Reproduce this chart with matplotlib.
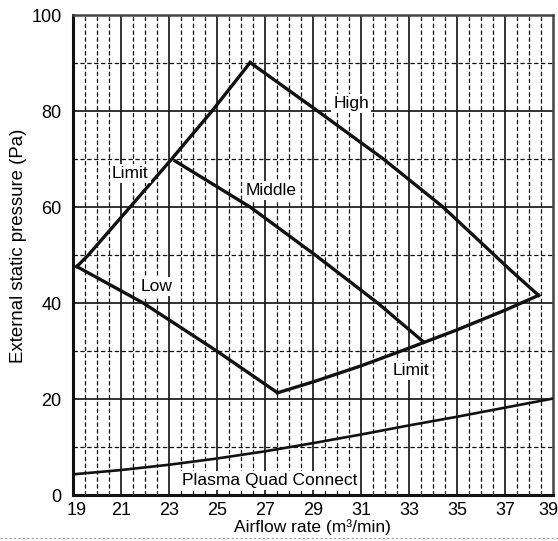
import matplotlib
matplotlib.use('Agg')
import numpy as np
import matplotlib.pyplot as plt
import matplotlib.transforms as mtransforms
from matplotlib.lines import Line2D

plt.rcParams['font.family'] = ['Liberation Sans', 'DejaVu Sans']

# curves (airflow m3/min, pressure Pa)
limit_top_x = [19.17, 19.65, 21.39, 23.12, 24.8, 26.39]
limit_top_y = [47.6, 50.0, 60.0, 70.0, 80.0, 90.1]
high_x = [26.39, 29.2, 31.94, 34.42, 37.22, 38.4]
high_y = [90.1, 80.0, 70.0, 60.0, 46.9, 41.6]
middle_x = [23.26, 26.39, 29.1, 31.7, 33.61]
middle_y = [69.6, 60.0, 50.0, 40.0, 31.9]
low_x = [19.17, 21.94, 25.0, 27.53]
low_y = [47.6, 40.0, 30.0, 21.3]
limit_bot_x = [27.53, 29.03, 31.0, 33.0, 35.0, 37.0, 38.4]
limit_bot_y = [21.3, 23.6, 26.9, 30.6, 34.4, 38.5, 41.6]
plasma_x = [19, 21, 23, 25, 27, 29, 31, 33, 35, 37, 39]
plasma_y = [4.3, 5.2, 6.3, 7.6, 9.1, 10.8, 12.6, 14.5, 16.3, 18.2, 20.1]

labels = ['High', 'Middle', 'Limit', 'Low', 'Limit', 'Plasma Quad Connect']
label_x = [30.6, 27.27, 21.4, 22.5, 33.1, 27.2]
label_y = [81.6, 63.5, 66.9, 43.5, 25.9, 3.0]

xticks = list(range(19, 40, 2))
yticks = list(range(0, 101, 20))

fig = plt.figure(figsize=(5.58, 5.41), dpi=100)
ax = fig.add_axes([0.1303, 0.085, 0.8607, 0.8872])
ax.set_xlim(19, 39)
ax.set_ylim(0, 100)

# grid
for xv in np.arange(19.5, 39, 0.5):
    if xv % 2 == 1:
        ax.axvline(xv, color='#111111', lw=1.2, zorder=1)
    else:
        ax.axvline(xv, color='#111111', lw=0.9, ls=(0, (3.5, 2)), zorder=1)
for yv in range(10, 100, 10):
    if yv % 20 == 0:
        ax.axhline(yv, color='#111111', lw=1.2, zorder=1)
    else:
        ax.axhline(yv, color='#111111', lw=0.9, ls=(0, (3.5, 2)), zorder=1)

for xs, ys in [(limit_top_x, limit_top_y), (high_x, high_y), (middle_x, middle_y),
               (low_x, low_y), (limit_bot_x, limit_bot_y)]:
    ax.plot(xs, ys, color='#111111', lw=2.4, zorder=3, solid_joinstyle='miter')
ax.plot(plasma_x, plasma_y, color='#111111', lw=1.9, zorder=3)

for t, lx, ly in zip(labels, label_x, label_y):
    ax.text(lx, ly, t, ha='center', va='center', fontsize=12.5, zorder=4,
            bbox=dict(facecolor='white', edgecolor='none', pad=1.5))

ax.set_xticks(xticks)
ax.set_yticks(yticks)
ax.tick_params(length=0, labelsize=13)
ax.tick_params(axis='x', pad=5)
ax.tick_params(axis='y', pad=8)
ax.set_xlabel('Airflow rate (m\u00b3/min)', fontsize=12.5, labelpad=0)
ax.set_ylabel('External static pressure (Pa)', fontsize=13.4)
ax.yaxis.set_label_coords(-0.113, 0.52)
ax.yaxis.label.set_verticalalignment('center')

# first and last x labels sit a little inside the frame
xlabs = ax.get_xticklabels()
xlabs[0].set_transform(xlabs[0].get_transform() +
                       mtransforms.ScaledTranslation(4 / 100, 0, fig.dpi_scale_trans))
xlabs[-1].set_transform(xlabs[-1].get_transform() +
                        mtransforms.ScaledTranslation(-5 / 100, 0, fig.dpi_scale_trans))

for s in ['left', 'bottom']:
    ax.spines[s].set_linewidth(2.2)
    ax.spines[s].set_color('#111111')
for s in ['top', 'right']:
    ax.spines[s].set_linewidth(1.8)
    ax.spines[s].set_color('#444444')

fig.add_artist(Line2D([0, 1], [3 / 541, 3 / 541], color='#999999', lw=0.8,
                      ls=(0, (2, 2)), transform=fig.transFigure))

plt.savefig('out.png', dpi=100)
